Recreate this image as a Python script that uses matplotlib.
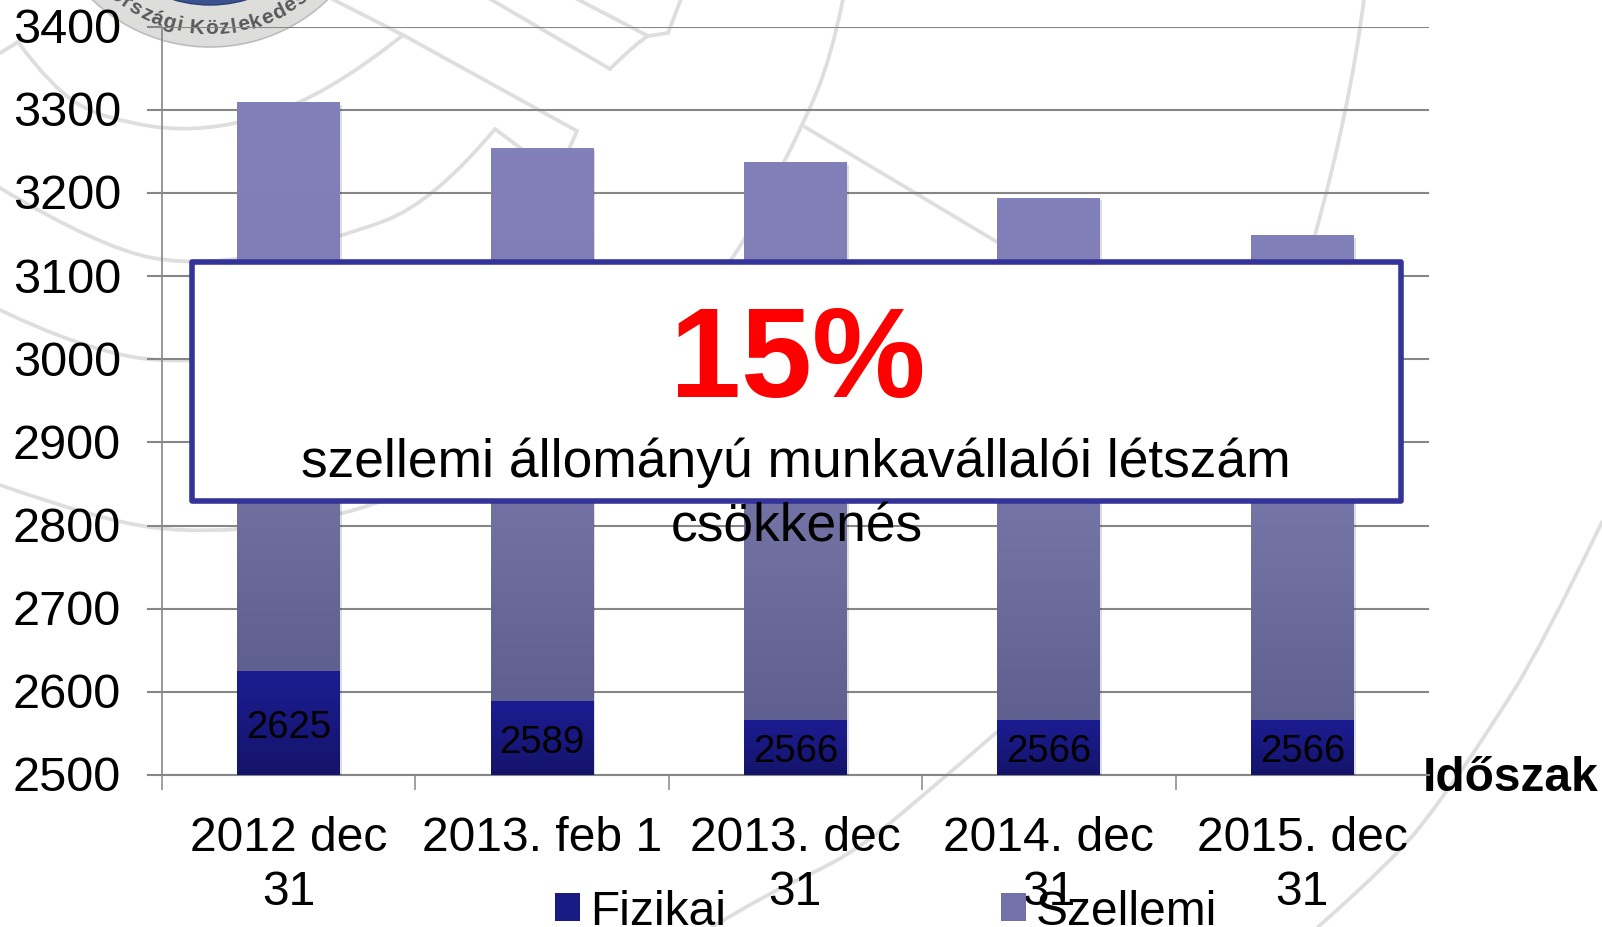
import numpy as np
import matplotlib
matplotlib.use("Agg")
import matplotlib.pyplot as plt
from matplotlib.colors import LinearSegmentedColormap
from matplotlib.patches import Circle, Patch, PathPatch, Rectangle
from matplotlib.path import Path
from matplotlib.patheffects import SimplePatchShadow, Normal
from matplotlib.textpath import TextPath
from matplotlib.transforms import ScaledTranslation
from matplotlib.font_manager import FontProperties

plt.rcParams["font.family"] = ["Liberation Sans", "DejaVu Sans"]

# ---- data ----
categories = ["2012 dec\n31", "2013. feb 1", "2013. dec\n31", "2014. dec\n31", "2015. dec\n31"]
fizikai = [2625, 2589, 2566, 2566, 2566]
szellemi = [684, 665, 671, 628, 583]
y_ticks = [2500, 2600, 2700, 2800, 2900, 3000, 3100, 3200, 3300, 3400]
legend_labels = ["Fizikai", "Szellemi"]
axis_title = "Időszak"
callout_big = "15%"
callout_line1 = "szellemi állományú munkavállalói létszám"
callout_line2 = "csökkenés"
logo_text = "Országi Közlekedés"

W, H = 1602, 928
GRID = "#868686"
ARC = "#DEDEDE"

fig = plt.figure(figsize=(W / 100, H / 100), dpi=100, facecolor="white")


def px_axes(z):
    a = fig.add_axes([0, 0, 1, 1], zorder=z)
    a.set_xlim(0, W)
    a.set_ylim(H, 0)
    a.axis("off")
    a.patch.set_alpha(0)
    return a


# ---- watermark background ----
bg = px_axes(0)


def curve(pts):
    verts = [pts[0]]
    codes = [Path.MOVETO]
    for i in range(1, len(pts) - 1):
        p, q = np.array(pts[i]), np.array(pts[i + 1])
        end = q if i == len(pts) - 2 else (p + q) / 2
        verts += [tuple(p), tuple(end)]
        codes += [Path.CURVE3, Path.CURVE3]
    if len(pts) == 2:
        verts.append(pts[1])
        codes.append(Path.LINETO)
    bg.add_patch(PathPatch(Path(verts, codes), fill=False, ec=ARC, lw=2.7, capstyle="round", joinstyle="round"))


arcs = [
    [(0, 54), (18, 43)],
    [(18, 43), (51, 88), (102, 120), (204, 135), (326, 98), (403, 36)],
    [(0, 189), (102, 250), (204, 268), (337, 240), (434, 203), (495, 130)],
    [(0, 311), (77, 348), (189, 368), (300, 350)],
    [(0, 486), (102, 522), (204, 535), (342, 519), (400, 495)],
    [(332, 0), (403, 36)],
    [(403, 36), (577, 132)],
    [(577, 132), (569, 150)],
    [(495, 130), (575, 190)],
    [(490, 0), (610, 70)],
    [(610, 70), (635, 45), (648, 37)],
    [(577, 0), (648, 37)],
    [(648, 37), (668, 34)],
    [(668, 34), (681, 0)],
    [(843, 0), (831, 60), (800, 132), (770, 190), (744, 243), (730, 262)],
    [(805, 128), (997, 243)],
    [(1364, 0), (1350, 110), (1315, 236)],
    [(1602, 523), (1542, 647), (1485, 737), (1444, 797), (1395, 860), (1318, 928)],
    [(997, 733), (923, 797), (850, 857), (770, 893), (712, 928)],
]
for a in arcs:
    curve(a)

# logo
LOGO_C = (210, -122)
bg.add_patch(Circle(LOGO_C, 170, fc="#DDDDDB", ec="#BDBDBD", lw=1.2))
bg.add_patch(Circle(LOGO_C, 128, fc="#3A5290", ec="#2C3F75", lw=1))
fp = FontProperties(family="Liberation Sans", weight="bold", size=15)
bar_w = TextPath((0, 0), "|", prop=fp).get_extents().width
adv = np.array([5.0 if c == " " else TextPath((0, 0), "|" + c + "|", prop=fp).get_extents().width - 2 * bar_w for c in logo_text])
pos = np.cumsum(adv) - adv / 2
pos = (pos - (pos[0] + pos[-1]) / 2) / (pos[-1] - pos[0])
for c, t in zip(logo_text, pos):
    ang = -1 + t * 76
    a = np.radians(ang)
    bg.text(LOGO_C[0] + 156 * np.sin(a), LOGO_C[1] + 156 * np.cos(a), c,
            rotation=ang, rotation_mode="anchor", ha="center", va="baseline",
            fontproperties=fp, color="#58585A", clip_on=True)

# ---- chart ----
L, R, T, B = 161.7, 1429, 28, 775.8
ax = fig.add_axes([L / W, 1 - B / H, (R - L) / W, (B - T) / H], zorder=1)
ax.patch.set_alpha(0)
x = np.arange(len(categories))
bw = 0.405
shadow = [SimplePatchShadow(offset=(1.5, -1.5), shadow_rgbFace="#000000", alpha=0.13), Normal()]

bars_f = ax.bar(x, fizikai, bw, color="#1A1A85", label=legend_labels[0], zorder=3)
bars_s = ax.bar(x, szellemi, bw, bottom=fizikai, color="#7272A8", label=legend_labels[1], zorder=3)

cm_f = LinearSegmentedColormap.from_list("f", ["#14146A", "#1C1C92"])
cm_s = LinearSegmentedColormap.from_list("s", [(0, "#5F608F"), (0.3, "#6F6FA0"), (0.69, "#807EB4"), (1, "#8280B8")])
grad = np.linspace(0, 1, 128).reshape(-1, 1)
for bars, cm in ((bars_f, cm_f), (bars_s, cm_s)):
    for b in bars:
        b.set_antialiased(False)
        b.set_path_effects(shadow)
        y0 = max(b.get_y(), y_ticks[0])
        y1 = b.get_y() + b.get_height()
        ax.imshow(grad, origin="lower", cmap=cm, aspect="auto", zorder=3.5,
                  extent=(b.get_x(), b.get_x() + b.get_width(), y0, y1))

for xi, v in zip(x, fizikai):
    ax.text(xi, (v + y_ticks[0]) / 2, str(v), ha="center", va="center_baseline", fontsize=27.6, color="black", zorder=5)

ax.set_xlim(-0.5, len(categories) - 0.5)
ax.set_ylim(y_ticks[0], y_ticks[-1])
ax.set_yticks(y_ticks)
ax.grid(axis="y", color=GRID, lw=1.5, zorder=1)
ax.set_axisbelow(True)
ax.set_xticks(x[:] - 0.5)
ax.set_xticklabels([])
ax.set_xticks(x, categories, minor=True)
ax.tick_params(axis="x", which="major", length=10.8, width=1.1, color=GRID)
ax.tick_params(axis="x", which="minor", length=0, pad=29, labelsize=34.6)
ax.tick_params(axis="y", length=10.6, width=1.5, color=GRID, pad=18.8, labelsize=35)
nudge = ScaledTranslation(0, 1.6 / 72, fig.dpi_scale_trans)
for lab in ax.get_yticklabels():
    lab.set_transform(lab.get_transform() + nudge)
for lab in ax.get_xticklabels(minor=True):
    lab.set_linespacing(1.25)
for s in ("top", "right"):
    ax.spines[s].set_visible(False)
for s in ("left", "bottom"):
    ax.spines[s].set_color(GRID)
ax.spines["left"].set_linewidth(1.2)
ax.spines["bottom"].set_linewidth(1.5)

ax.set_xlabel(axis_title, fontsize=34.5, fontweight="bold", ha="left", va="baseline")
ax.xaxis.set_label_coords((1423 - L) / (R - L), (B - 791) / (B - T))

handles = [Patch(fc="#1A1A85"), Patch(fc="#7272A8")]
leg = fig.legend(handles, legend_labels, ncols=2, frameon=False, fontsize=34.5,
                 loc="lower left", bbox_to_anchor=(555 / W, 1 - 935 / H), bbox_transform=fig.transFigure,
                 borderpad=0, borderaxespad=0, handlelength=0.525, handleheight=0.525, handletextpad=0.2,
                 columnspacing=5.74)
leg.set_zorder(4)

# ---- callout ----
ov = px_axes(3)
ov.add_patch(Rectangle((191.7, 262.7), 1209, 239, fc="white", ec="#333399", lw=4, joinstyle="round"))
ov.text(797.5, 396.7, callout_big, color="#FF0000", fontsize=92, fontweight="bold", ha="center", va="baseline")
ov.text(796, 476.7, callout_line1, color="black", fontsize=38.4, ha="center", va="baseline")
ov.text(797, 541.7, callout_line2, color="black", fontsize=38.4, ha="center", va="baseline")

fig.savefig("out.png", dpi=100, facecolor="white")
